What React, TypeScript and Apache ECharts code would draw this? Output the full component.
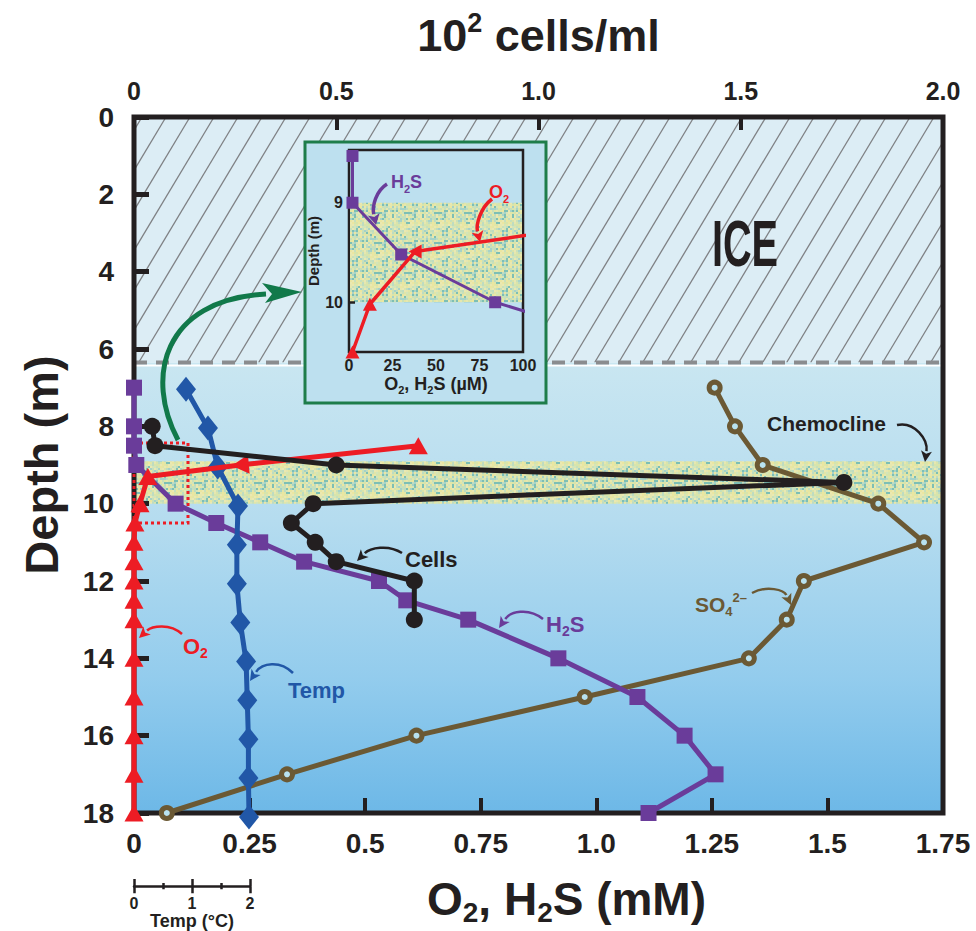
import React, { useEffect, useRef } from 'react';
import * as echarts from 'echarts';

const FONT = '"Liberation Sans", Arial, Helvetica, sans-serif';
const INK = '#231f20';
const C_H2S = '#6a3c9a';
const C_O2 = '#ed1c24';
const C_TEMP = '#2157a7';
const C_SO4 = '#6b5934';
const C_GREEN = '#11794a';

// Axis tick labels
const bottomTickLabels = ['0', '0.25', '0.5', '0.75', '1.0', '1.25', '1.5', '1.75'];
const topTickLabels = ['0', '0.5', '1.0', '1.5', '2.0'];
const tempScaleLabels = ['0', '1', '2'];

// Layers (depth, m)
const ICE_BOTTOM = 6.35;
const CHEMO_TOP = 8.9;
const CHEMO_BOTTOM = 10.0;
const INSET_CHEMO_TOP = 9.0;
const INSET_CHEMO_BOTTOM = 10.0;

// H2S (mM)
const depthH2S = [7, 8, 8.5, 9, 10, 10.5, 11, 11.5, 12, 12.5, 13, 14, 15, 16, 17, 18];
const h2sMM = [0, 0, 0, 0.005, 0.09, 0.178, 0.273, 0.368, 0.53, 0.589, 0.723, 0.918, 1.089, 1.191, 1.258, 1.113];

// Temperature (°C)
const depthTemp = [7, 8, 9, 10, 11, 12, 13, 14, 15, 16, 17, 18];
const tempC = [0.9, 1.28, 1.45, 1.8, 1.78, 1.78, 1.84, 1.94, 1.96, 1.98, 1.98, 1.99];

// O2 (mM)
const depthO2 = [8.5, 9, 9.3, 10, 10.5, 11, 11.5, 12, 12.5, 13, 14, 15, 16, 17, 18];
const o2MM = [0.615, 0.23, 0.03, 0.013, 0.002, 0, 0, 0, 0, 0, 0, 0, 0, 0, 0];

// Cells (10^2 cells/ml)
const depthCells = [8, 8.5, 9, 9.45, 10, 10.5, 11, 11.5, 12, 13];
const cellsE2 = [0.045, 0.052, 0.5, 1.755, 0.443, 0.389, 0.448, 0.5, 0.693, 0.693];

// SO4 2-
const depthSO4 = [7, 8, 9, 10, 11, 12, 13, 14, 15, 16, 17, 18];
const so4 = [1.256, 1.3, 1.36, 1.61, 1.709, 1.449, 1.412, 1.33, 0.975, 0.611, 0.331, 0.071];

// Inset (µM)
const insetDepthH2S = [8.53, 9.0, 9.52, 10.0, 10.5];
const insetH2S = [2, 2, 30, 84, 178];
const insetDepthO2 = [9.0, 9.49, 10.02, 10.5];
const insetO2 = [230, 38, 12, 2];

function makeSpeckle(): any {
  const size = 30;
  const cv = document.createElement('canvas');
  cv.width = size;
  cv.height = size;
  const ctx = cv.getContext('2d');
  if (!ctx) return '#cfe0b6';
  const palette = ['#e2e6a6', '#d8e4ab', '#bedcc1', '#a6d2c8', '#eae8b2', '#7dbfb5', '#d3e5bb', '#ebe6a0', '#c7e0bb', '#e6e7ae'];
  for (let y = 0; y < size; y += 2) {
    for (let x = 0; x < size; x += 2) {
      let v = (Math.imul(x + 11, 374761393) + Math.imul(y + 5, 668265263)) >>> 0;
      v = Math.imul(v ^ (v >>> 13), 1274126177) >>> 0;
      v = (v ^ (v >>> 16)) >>> 0;
      ctx.fillStyle = palette[v % palette.length];
      ctx.fillRect(x, y, 2, 2);
    }
  }
  return { image: cv, repeat: 'repeat' };
}

function curvedArrow(p0: number[], c1: number[], c2: number[], p1: number[], color: string, lw: number, headLen: number, headW: number, z = 30): any[] {
  const ang = Math.atan2(p1[1] - c2[1], p1[0] - c2[0]);
  const bx = p1[0] - headLen * Math.cos(ang);
  const by = p1[1] - headLen * Math.sin(ang);
  const nx = -Math.sin(ang);
  const ny = Math.cos(ang);
  return [
    {
      type: 'bezierCurve', z, silent: true,
      shape: { x1: p0[0], y1: p0[1], cpx1: c1[0], cpy1: c1[1], cpx2: c2[0], cpy2: c2[1], x2: bx, y2: by },
      style: { stroke: color, lineWidth: lw, fill: 'none' },
    },
    {
      type: 'polygon', z, silent: true,
      shape: {
        points: [
          [p1[0], p1[1]],
          [bx + nx * headW, by + ny * headW],
          [bx + (p1[0] - bx) * 0.25, by + (p1[1] - by) * 0.25],
          [bx - nx * headW, by - ny * headW],
        ],
      },
      style: { fill: color },
    },
  ];
}

function richLabel(x: number, y: number, text: string, color: string, size: number, z = 30): any {
  const base = { fontWeight: 'bold', fontFamily: FONT, fill: color };
  return {
    type: 'text', x, y, z, silent: true,
    style: {
      text, fill: color, fontSize: size, fontWeight: 'bold', fontFamily: FONT,
      align: 'left', verticalAlign: 'middle',
      rich: {
        n: { ...base, fontSize: size, lineHeight: size + 6 },
        s: { ...base, fontSize: Math.round(size * 0.62), lineHeight: Math.round(size * 0.55), verticalAlign: 'bottom' },
        p: { ...base, fontSize: Math.round(size * 0.62), lineHeight: Math.round(size * 0.6), verticalAlign: 'top' },
      },
    },
  };
}

function pairs(xs: number[], ys: number[]) {
  return xs.map((v, i) => [v, ys[i]]);
}

export default function App() {
  const ref = useRef<HTMLDivElement>(null);
  useEffect(() => {
    document.body.style.margin = '0';
    if (!ref.current) return;
    const chart = echarts.init(ref.current, undefined, { renderer: 'svg' });

    const labelStyle = (size: number) => ({ fontSize: size, fontWeight: 'bold', fontFamily: FONT, color: INK });
    const speckle = makeSpeckle();

    const o2Data = pairs(o2MM, depthO2).map((p, i) => (i === 1 ? { value: p, symbolRotate: 95 } : p));
    const insetO2Data = pairs(insetO2, insetDepthO2).map((p, i) => (i === 1 ? { value: p, symbolRotate: 90 } : p));

    const mainRect = { left: 134, top: 117, width: 809, height: 700 };
    const noLine = { show: false, onZero: false };

    const option: any = {
      animation: false,
      backgroundColor: '#ffffff',
      grid: [
        { ...mainRect, show: true, borderColor: INK, borderWidth: 5, backgroundColor: 'transparent', z: 2 },
        { left: 349, top: 150, width: 174, height: 202, show: true, borderColor: INK, borderWidth: 2.5, backgroundColor: '#bde0ef', z: 21 },
        { left: 134, top: 886, width: 116, height: 1, show: false },
        { ...mainRect, show: false },
      ],
      xAxis: [
        {
          gridIndex: 0, type: 'value', min: 0, max: 1.75, interval: 0.25, position: 'bottom', z: 3,
          axisLine: noLine,
          axisTick: { show: true, inside: true, length: 15, lineStyle: { width: 4, color: INK } },
          splitLine: { show: false },
          axisLabel: { ...labelStyle(28), margin: 16, formatter: (v: number) => bottomTickLabels[Math.round(v / 0.25)] ?? String(v) },
          name: '{n|O}{s|2}{n|, H}{s|2}{n|S (mM)}',
          nameLocation: 'middle', nameGap: 59,
          nameTextStyle: {
            padding: [0, 0, 0, 56],
            rich: {
              n: { ...labelStyle(46), lineHeight: 54 },
              s: { ...labelStyle(28), lineHeight: 25, verticalAlign: 'bottom' },
            },
          },
        },
        {
          gridIndex: 0, type: 'value', min: 0, max: 2, interval: 0.5, position: 'top', z: 3,
          axisLine: noLine,
          axisTick: { show: true, inside: true, length: 13, lineStyle: { width: 4, color: INK } },
          splitLine: { show: false },
          axisLabel: { ...labelStyle(25), margin: 14, formatter: (v: number) => topTickLabels[Math.round(v / 0.5)] ?? String(v) },
          name: '{n|10}{p|2}{n| cells/ml}',
          nameLocation: 'middle', nameGap: 56,
          nameTextStyle: {
            rich: {
              n: { ...labelStyle(45), lineHeight: 52 },
              p: { ...labelStyle(27), lineHeight: 28, verticalAlign: 'top' },
            },
          },
        },
        {
          gridIndex: 3, type: 'value', min: 0, max: 14, interval: 2, show: false, position: 'bottom',
          axisLine: noLine, axisTick: { show: false }, axisLabel: { show: false }, splitLine: { show: false },
        },
        {
          gridIndex: 1, type: 'value', min: 0, max: 100, interval: 25, position: 'bottom', z: 23,
          axisLine: noLine,
          axisTick: { show: false },
          splitLine: { show: false },
          axisLabel: { ...labelStyle(16), margin: 5 },
          name: '{n|O}{s|2}{n|, H}{s|2}{n|S (µM)}',
          nameLocation: 'middle', nameGap: 21,
          nameTextStyle: {
            rich: {
              n: { ...labelStyle(18), lineHeight: 22 },
              s: { ...labelStyle(11), lineHeight: 10, verticalAlign: 'bottom' },
            },
          },
        },
        {
          gridIndex: 2, type: 'value', min: 0, max: 2, interval: 1, position: 'bottom',
          axisLine: { show: true, onZero: false, lineStyle: { width: 2.5, color: INK } },
          axisTick: { show: true, length: 7, lineStyle: { width: 2.5, color: INK } },
          minorTick: { show: true, splitNumber: 2, length: 3, lineStyle: { width: 2.5, color: INK } },
          splitLine: { show: false },
          axisLabel: { ...labelStyle(16), margin: 9, formatter: (v: number) => tempScaleLabels[Math.round(v)] ?? String(v) },
          name: 'Temp (°C)', nameLocation: 'middle', nameGap: 25,
          nameTextStyle: labelStyle(18),
        },
        {
          gridIndex: 2, type: 'value', min: 0, max: 2, interval: 1, position: 'top',
          axisLine: noLine,
          axisTick: { show: true, length: 7, lineStyle: { width: 2.5, color: INK } },
          minorTick: { show: true, splitNumber: 2, length: 3, lineStyle: { width: 2.5, color: INK } },
          splitLine: { show: false },
          axisLabel: { show: false },
        },
      ],
      yAxis: [
        {
          gridIndex: 0, type: 'value', inverse: true, min: 0, max: 18, interval: 2, z: 3,
          axisLine: noLine,
          axisTick: { show: true, inside: true, length: 15, lineStyle: { width: 5, color: INK } },
          splitLine: { show: false },
          axisLabel: { ...labelStyle(28), margin: 20 },
          name: 'Depth (m)', nameLocation: 'middle', nameGap: 69,
          nameTextStyle: labelStyle(47),
        },
        {
          gridIndex: 1, type: 'value', inverse: true, min: 8.47, max: 10.5, z: 23,
          axisLine: noLine,
          axisTick: { show: true, inside: true, length: 6, customValues: [9, 10], lineStyle: { width: 2.5, color: INK } },
          splitLine: { show: false },
          axisLabel: { ...labelStyle(16), margin: 6, customValues: [9, 10] },
          name: 'Depth (m)', nameLocation: 'middle', nameGap: 22,
          nameTextStyle: labelStyle(15),
        },
        { gridIndex: 2, type: 'value', min: 0, max: 1, show: false, axisLine: noLine },
        {
          gridIndex: 3, type: 'value', inverse: true, min: 0, max: 18, interval: 2, show: false,
          axisLine: noLine, axisTick: { show: false }, axisLabel: { show: false }, splitLine: { show: false },
        },
      ],
      series: [
        {
          type: 'custom', xAxisIndex: 0, yAxisIndex: 0, z: 1, silent: true,
          data: [[0, 0]],
          renderItem: (params: any, api: any) => {
            const cs = params.coordSys;
            const x0 = cs.x;
            const w = cs.width;
            const yTop = api.coord([0, 0])[1];
            const yIce = api.coord([0, ICE_BOTTOM])[1];
            const yBot = api.coord([0, 18])[1];
            const yC1 = api.coord([0, CHEMO_TOP])[1];
            const yC2 = api.coord([0, CHEMO_BOTTOM])[1];
            const h = yIce - yTop;
            const s = 0.6;
            const step = 24;
            const hatch: any[] = [];
            for (let c = x0 - s * h + 8; c < x0 + w; c += step) {
              const tmin = Math.max(0, (x0 - c) / (s * h));
              const tmax = Math.min(1, (x0 + w - c) / (s * h));
              if (tmin >= tmax) continue;
              hatch.push({
                type: 'line',
                shape: { x1: c + s * h * tmin, y1: yIce - h * tmin, x2: c + s * h * tmax, y2: yIce - h * tmax },
                style: { stroke: '#7f8184', lineWidth: 1.3 },
              });
            }
            return {
              type: 'group',
              children: [
                { type: 'rect', shape: { x: x0, y: yTop, width: w, height: h }, style: { fill: '#dcedf5' } },
                ...hatch,
                {
                  type: 'rect', shape: { x: x0, y: yIce, width: w, height: yBot - yIce },
                  style: {
                    fill: new echarts.graphic.LinearGradient(0, 0, 0, 1, [
                      { offset: 0, color: '#c9e6f1' },
                      { offset: 0.35, color: '#b5dcef' },
                      { offset: 0.7, color: '#93cced' },
                      { offset: 1, color: '#6db8e7' },
                    ]),
                  },
                },
                { type: 'rect', shape: { x: x0, y: yC1, width: w, height: yC2 - yC1 }, style: { fill: speckle } },
                { type: 'line', shape: { x1: x0, y1: yIce + 3, x2: x0 + w, y2: yIce + 3 }, style: { stroke: '#ffffff', lineWidth: 2 } },
                { type: 'line', shape: { x1: x0, y1: yIce, x2: x0 + w, y2: yIce }, style: { stroke: '#8a8c8f', lineWidth: 4, lineDash: [13, 9] } },
              ],
            };
          },
        },
        {
          type: 'line', name: 'SO4', xAxisIndex: 0, yAxisIndex: 0, z: 4, silent: true, clip: false,
          data: pairs(so4, depthSO4),
          lineStyle: { color: C_SO4, width: 5 },
          symbol: 'circle', symbolSize: 11,
          itemStyle: { color: '#b8e2f0', borderColor: C_SO4, borderWidth: 5 },
        },
        {
          type: 'line', name: 'H2S', xAxisIndex: 0, yAxisIndex: 0, z: 5, silent: true, clip: false,
          data: pairs(h2sMM, depthH2S),
          lineStyle: { color: C_H2S, width: 5 },
          symbol: 'rect', symbolSize: 16,
          itemStyle: { color: C_H2S },
        },
        {
          type: 'line', name: 'Temp', xAxisIndex: 2, yAxisIndex: 3, z: 6, silent: true, clip: false,
          data: pairs(tempC, depthTemp),
          lineStyle: { color: C_TEMP, width: 5 },
          symbol: 'diamond', symbolSize: [20, 25],
          itemStyle: { color: C_TEMP },
        },
        {
          type: 'line', name: 'O2', xAxisIndex: 0, yAxisIndex: 0, z: 7, silent: true, clip: false,
          data: o2Data,
          lineStyle: { color: C_O2, width: 5 },
          symbol: 'triangle', symbolSize: [19, 17],
          itemStyle: { color: C_O2 },
        },
        {
          type: 'line', name: 'Cells', xAxisIndex: 1, yAxisIndex: 0, z: 8, silent: true, clip: false,
          data: pairs(cellsE2, depthCells),
          lineStyle: { color: INK, width: 5 },
          symbol: 'circle', symbolSize: 17,
          itemStyle: { color: INK },
        },
        {
          type: 'custom', xAxisIndex: 3, yAxisIndex: 1, z: 22, silent: true,
          data: [[0, INSET_CHEMO_TOP]],
          renderItem: (params: any, api: any) => {
            const cs = params.coordSys;
            const y1 = api.coord([0, INSET_CHEMO_TOP])[1];
            const y2 = api.coord([0, INSET_CHEMO_BOTTOM])[1];
            return { type: 'rect', shape: { x: cs.x + 1, y: y1, width: cs.width - 2, height: y2 - y1 }, style: { fill: speckle } };
          },
        },
        {
          type: 'line', name: 'inset H2S', xAxisIndex: 3, yAxisIndex: 1, z: 24, silent: true, clip: true,
          data: pairs(insetH2S, insetDepthH2S),
          lineStyle: { color: C_H2S, width: 3 },
          symbol: 'rect', symbolSize: 12,
          itemStyle: { color: C_H2S },
        },
        {
          type: 'line', name: 'inset O2', xAxisIndex: 3, yAxisIndex: 1, z: 25, silent: true, clip: true,
          data: insetO2Data,
          lineStyle: { color: C_O2, width: 3.5 },
          symbol: 'triangle', symbolSize: [14, 13],
          itemStyle: { color: C_O2 },
        },
      ],
      graphic: [
        // inset panel
        { type: 'rect', z: 20, silent: true, shape: { x: 305, y: 142, width: 241, height: 261 }, style: { fill: '#bde0ef', stroke: '#1e7d4a', lineWidth: 3 } },
        // red dotted box
        { type: 'rect', z: 3, silent: true, shape: { x: 134, y: 443, width: 54, height: 80 }, style: { fill: 'none', stroke: C_O2, lineWidth: 3, lineDash: [3, 3] } },
        // green arrow
        {
          type: 'bezierCurve', z: 30, silent: true,
          shape: { x1: 178, y1: 440, cpx1: 145, cpy1: 378, cpx2: 162, cpy2: 300, x2: 266, y2: 294 },
          style: { stroke: C_GREEN, lineWidth: 5, fill: 'none' },
        },
        {
          type: 'polygon', z: 30, silent: true,
          shape: { points: [[302, 292], [262, 283], [272, 294], [265, 303]] },
          style: { fill: C_GREEN },
        },
        // ICE
        {
          type: 'text', x: 745, y: 244, z: 30, scaleX: 0.62, silent: true,
          style: { text: 'ICE', fill: INK, fontSize: 64, fontWeight: 'bold', fontFamily: FONT, align: 'center', verticalAlign: 'middle' },
        },
        // labels
        richLabel(767, 423, 'Chemocline', INK, 21),
        ...curvedArrow([897, 425], [915, 421], [928, 440], [925, 462], INK, 2.5, 11, 5.5),
        richLabel(405, 559, 'Cells', INK, 22),
        ...curvedArrow([402, 553], [388, 544], [370, 548], [357, 561], INK, 2.5, 11, 5.5),
        richLabel(695, 604, '{n|SO}{s|4}{p|2–}', C_SO4, 21),
        ...curvedArrow([752, 593], [767, 585], [784, 590], [791, 605], C_SO4, 2.5, 11, 5.5),
        richLabel(546, 624, '{n|H}{s|2}{n|S}', C_H2S, 22),
        ...curvedArrow([543, 619], [528, 607], [510, 612], [499, 628], C_H2S, 2.5, 11, 5.5),
        richLabel(183, 646, '{n|O}{s|2}', C_O2, 22),
        ...curvedArrow([182, 634], [170, 623], [152, 626], [139, 638], C_O2, 2.5, 11, 5.5),
        richLabel(288, 690, 'Temp', C_TEMP, 22),
        ...curvedArrow([293, 673], [280, 660], [262, 663], [250, 681], C_TEMP, 2.5, 11, 5.5),
        // inset labels
        richLabel(391, 182, '{n|H}{s|2}{n|S}', C_H2S, 18),
        ...curvedArrow([387, 184], [376, 191], [372, 206], [376, 225], C_H2S, 3.5, 11, 6),
        richLabel(489, 192, '{n|O}{s|2}', C_O2, 18),
        ...curvedArrow([492, 199], [480, 208], [476, 225], [480, 242], C_O2, 3.5, 11, 6),
      ],
    };

    chart.setOption(option);
    return () => chart.dispose();
  }, []);

  return <div ref={ref} style={{ width: 976, height: 931 }} />;
}
